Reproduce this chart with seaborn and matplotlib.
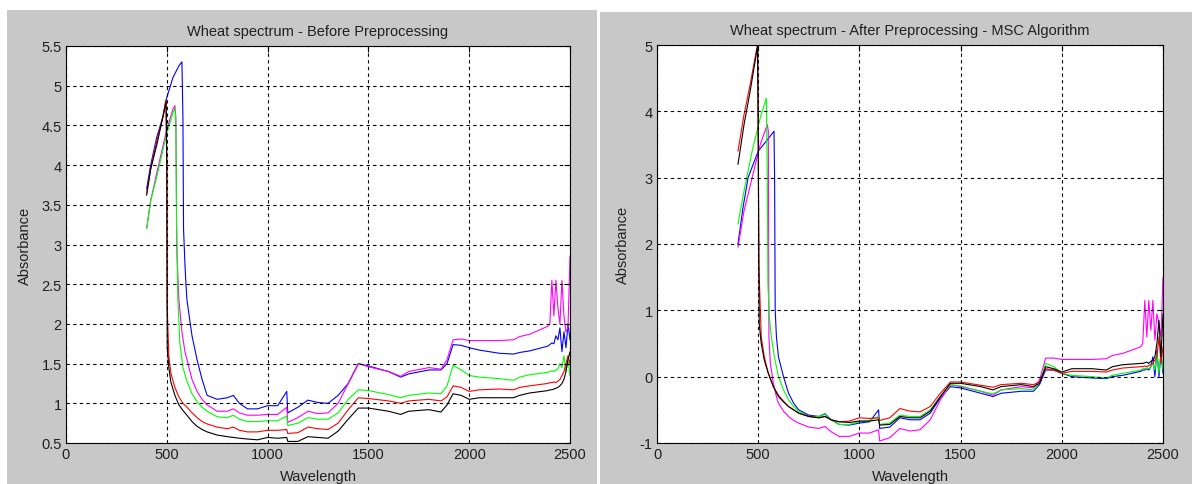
import numpy as np
import pandas as pd
import seaborn as sns
import matplotlib.pyplot as plt
from matplotlib.patches import Rectangle

# shared wavelength grid for the long tail of each spectrum
wl_tail = [600, 625, 650, 675, 700, 750, 800, 830, 860, 900, 950, 1000, 1050, 1095, 1100, 1150,
           1200, 1250, 1300, 1350, 1400, 1450, 1500, 1600, 1660, 1700, 1800, 1860, 1890, 1920,
           1960, 2000, 2050, 2150, 2220, 2250, 2300, 2390, 2400, 2410, 2420, 2430, 2440, 2450,
           2460, 2470, 2480, 2490, 2500]

sample_names = ['blue', 'magenta', 'green', 'red', 'black']
sample_colors = ['#0000ff', '#ff00ff', '#00ff00', '#ff0000', '#000000']

# ---- before preprocessing ----
before_black_wl = [400, 420, 450, 480, 497, 500, 502, 510, 520, 540, 560, 580]
before_black_head = [3.62, 3.95, 4.25, 4.6, 4.8, 4.0, 1.7, 1.45, 1.27, 1.1, 0.98, 0.91]
before_black_tail = [0.85, 0.77, 0.71, 0.67, 0.64, 0.6, 0.58, 0.57, 0.56, 0.55, 0.54, 0.57, 0.56,
                     0.57, 0.52, 0.52, 0.58, 0.57, 0.56, 0.65, 0.8, 0.94, 0.94, 0.9, 0.86, 0.9,
                     0.92, 0.89, 0.98, 1.12, 1.1, 1.05, 1.07, 1.07, 1.07, 1.1, 1.13, 1.16, 1.17,
                     1.17, 1.18, 1.19, 1.2, 1.22, 1.25, 1.3, 1.4, 1.55, 1.65]

before_red_wl = [400, 420, 450, 480, 495, 500, 502, 510, 520, 540, 560, 580]
before_red_head = [3.65, 3.95, 4.3, 4.6, 4.82, 4.0, 2.2, 1.6, 1.38, 1.2, 1.08, 1.0]
before_red_tail = [0.95, 0.88, 0.82, 0.77, 0.74, 0.7, 0.68, 0.7, 0.66, 0.64, 0.64, 0.66, 0.66,
                   0.67, 0.62, 0.63, 0.7, 0.68, 0.67, 0.75, 0.92, 1.07, 1.06, 1.03, 1.0, 1.03,
                   1.05, 1.03, 1.08, 1.22, 1.2, 1.15, 1.17, 1.18, 1.17, 1.2, 1.22, 1.25, 1.26,
                   1.26, 1.27, 1.26, 1.28, 1.3, 1.35, 1.4, 1.5, 1.6, 1.5]

before_green_wl = [400, 420, 450, 500, 530, 540, 545, 548, 555, 565, 580]
before_green_head = [3.2, 3.55, 3.85, 4.4, 4.65, 4.72, 4.5, 3.3, 2.3, 1.75, 1.45]
before_green_tail = [1.28, 1.12, 1.02, 0.95, 0.9, 0.83, 0.82, 0.85, 0.8, 0.77, 0.77, 0.78, 0.78,
                     0.84, 0.72, 0.75, 0.82, 0.8, 0.8, 0.88, 1.05, 1.17, 1.16, 1.11, 1.07, 1.1,
                     1.13, 1.12, 1.22, 1.48, 1.42, 1.35, 1.33, 1.31, 1.29, 1.33, 1.36, 1.39, 1.4,
                     1.41, 1.4, 1.42, 1.43, 1.5, 1.45, 1.6, 1.4, 1.55, 1.35]

before_magenta_wl = [400, 420, 450, 500, 530, 540, 545, 550, 560, 575, 590]
before_magenta_head = [3.2, 3.55, 3.9, 4.45, 4.7, 4.75, 4.6, 2.9, 2.3, 1.9, 1.65]
before_magenta_tail = [1.55, 1.3, 1.15, 1.05, 0.98, 0.9, 0.9, 0.93, 0.88, 0.85, 0.85, 0.86, 0.86,
                       0.95, 0.76, 0.82, 0.9, 0.87, 0.88, 1.0, 1.25, 1.5, 1.46, 1.4, 1.34, 1.4,
                       1.45, 1.43, 1.55, 1.8, 1.81, 1.79, 1.79, 1.79, 1.8, 1.84, 1.87, 1.97, 2.0,
                       2.55, 2.1, 2.55, 2.2, 2.0, 2.55, 2.1, 1.9, 1.95, 2.85]

before_blue_wl = [400, 420, 450, 480, 500, 530, 560, 575, 580, 583, 590, 595]
before_blue_head = [3.7, 4.0, 4.35, 4.6, 4.85, 5.1, 5.25, 5.3, 4.6, 3.2, 2.75, 2.5]
before_blue_tail = [2.3, 1.85, 1.55, 1.3, 1.1, 1.05, 1.07, 1.1, 1.0, 0.93, 0.93, 0.97, 0.97,
                    1.15, 0.88, 0.95, 1.04, 1.01, 1.0, 1.1, 1.25, 1.5, 1.47, 1.4, 1.33, 1.37,
                    1.42, 1.42, 1.5, 1.74, 1.73, 1.7, 1.67, 1.63, 1.62, 1.64, 1.66, 1.72, 1.74,
                    1.76, 1.75, 1.85, 1.8, 1.95, 1.65, 1.9, 1.7, 2.0, 1.8]

# ---- after MSC ----
after_black_wl = [400, 430, 460, 490, 497, 500, 505, 515, 530, 550, 575]
after_black_head = [3.2, 3.8, 4.3, 4.85, 5.0, 3.5, 0.8, 0.5, 0.25, 0.05, -0.15]
after_black_tail = [-0.3, -0.38, -0.45, -0.5, -0.55, -0.6, -0.62, -0.6, -0.65, -0.68, -0.69,
                    -0.67, -0.67, -0.65, -0.73, -0.72, -0.6, -0.62, -0.62, -0.52, -0.3, -0.1,
                    -0.1, -0.15, -0.2, -0.15, -0.12, -0.15, -0.1, 0.15, 0.12, 0.07, 0.12, 0.12,
                    0.1, 0.15, 0.18, 0.2, 0.2, 0.21, 0.22, 0.2, 0.23, 0.25, 0.3, 0.5, 0.85, 0.3,
                    0.95]

after_red_wl = [400, 430, 460, 490, 497, 500, 503, 515, 530, 550, 575]
after_red_head = [3.4, 3.95, 4.4, 4.9, 5.0, 4.0, 1.7, 0.6, 0.3, 0.05, -0.15]
after_red_tail = [-0.28, -0.37, -0.45, -0.5, -0.55, -0.6, -0.62, -0.6, -0.65, -0.68, -0.67,
                  -0.62, -0.63, -0.62, -0.66, -0.62, -0.48, -0.52, -0.53, -0.45, -0.25, -0.08,
                  -0.08, -0.13, -0.16, -0.12, -0.1, -0.12, -0.08, 0.12, 0.1, 0.05, 0.08, 0.08,
                  0.07, 0.1, 0.13, 0.15, 0.15, 0.16, 0.15, 0.17, 0.18, 0.2, 0.25, 0.3, 0.6, 0.2,
                  0.45]

after_green_wl = [400, 430, 470, 510, 540, 545, 548, 555, 565, 580]
after_green_head = [2.3, 2.8, 3.4, 3.9, 4.2, 3.0, 1.4, 0.9, 0.6, 0.3]
after_green_tail = [0.0, -0.2, -0.35, -0.45, -0.52, -0.6, -0.6, -0.57, -0.65, -0.72, -0.72,
                    -0.68, -0.66, -0.6, -0.72, -0.7, -0.58, -0.6, -0.6, -0.5, -0.3, -0.12,
                    -0.14, -0.22, -0.26, -0.2, -0.18, -0.2, -0.1, 0.2, 0.15, 0.05, 0.02, 0.0,
                    -0.02, 0.02, 0.05, 0.1, 0.12, 0.12, 0.13, 0.12, 0.15, 0.2, 0.1, 0.35, 0.05,
                    0.4, 0.1]

after_magenta_wl = [400, 430, 470, 510, 545, 550, 553, 560, 575, 590]
after_magenta_head = [1.95, 2.5, 3.0, 3.5, 3.8, 3.7, 0.6, 0.2, -0.1, -0.3]
after_magenta_tail = [-0.4, -0.52, -0.6, -0.66, -0.7, -0.76, -0.78, -0.75, -0.83, -0.9, -0.9,
                      -0.85, -0.85, -0.8, -0.97, -0.92, -0.78, -0.82, -0.8, -0.65, -0.35, -0.12,
                      -0.15, -0.22, -0.28, -0.2, -0.15, -0.17, -0.05, 0.28, 0.28, 0.26, 0.26,
                      0.26, 0.27, 0.32, 0.35, 0.45, 0.5, 1.15, 0.6, 1.15, 0.7, 1.15, 0.55, 0.95,
                      0.8, 0.6, 1.5]

after_blue_wl = [400, 425, 450, 500, 540, 578, 581, 584, 590]
after_blue_head = [2.0, 2.55, 3.0, 3.4, 3.55, 3.7, 3.0, 1.0, 0.6]
after_blue_tail = [0.3, 0.0, -0.25, -0.4, -0.5, -0.58, -0.6, -0.56, -0.65, -0.72, -0.73, -0.7,
                   -0.68, -0.5, -0.78, -0.76, -0.62, -0.65, -0.65, -0.55, -0.32, -0.15, -0.17,
                   -0.25, -0.3, -0.25, -0.22, -0.22, -0.12, 0.1, 0.1, 0.05, 0.0, -0.02, -0.03,
                   0.0, 0.02, 0.08, 0.1, 0.1, 0.12, 0.1, 0.15, 0.3, 0.0, 0.4, 0.0, 0.35, 0.05]


def build_frame(heads, tails):
    rows = []
    for name in sample_names:
        wl, head = heads[name]
        for i, (w, a) in enumerate(zip(list(wl) + wl_tail, list(head) + tails[name])):
            rows.append({'sample': name, 'order': i, 'Wavelength': w, 'Absorbance': a})
    return pd.DataFrame(rows)


df_before = build_frame(
    {'black': (before_black_wl, before_black_head), 'red': (before_red_wl, before_red_head),
     'green': (before_green_wl, before_green_head), 'magenta': (before_magenta_wl, before_magenta_head),
     'blue': (before_blue_wl, before_blue_head)},
    {'black': before_black_tail, 'red': before_red_tail, 'green': before_green_tail,
     'magenta': before_magenta_tail, 'blue': before_blue_tail})

df_after = build_frame(
    {'black': (after_black_wl, after_black_head), 'red': (after_red_wl, after_red_head),
     'green': (after_green_wl, after_green_head), 'magenta': (after_magenta_wl, after_magenta_head),
     'blue': (after_blue_wl, after_blue_head)},
    {'black': after_black_tail, 'red': after_red_tail, 'green': after_green_tail,
     'magenta': after_magenta_tail, 'blue': after_blue_tail})

sns.set_style('white')
plt.rcParams['font.family'] = ['Liberation Sans', 'DejaVu Sans']
plt.rcParams['font.size'] = 10.5

fig = plt.figure(figsize=(11.92, 4.85), dpi=100, facecolor='white')
# grey window backgrounds, kept behind the axes
fig.patches.append(Rectangle((7 / 1192, 0), 590 / 1192, 474 / 485, transform=fig.transFigure,
                             facecolor='#c8c8c8', edgecolor='none', zorder=-10))
fig.patches.append(Rectangle((600 / 1192, 0), 592 / 1192, 472 / 485, transform=fig.transFigure,
                             facecolor='#c8c8c8', edgecolor='none', zorder=-10))

ax1 = fig.add_axes([66 / 1192, 41 / 485, 504 / 1192, 397 / 485])
ax2 = fig.add_axes([657 / 1192, 41 / 485, 506 / 1192, 398 / 485])

panels = [
    (ax1, df_before, 'Wheat spectrum - Before Preprocessing', (0.5, 5.5), np.arange(0.5, 5.51, 0.5)),
    (ax2, df_after, 'Wheat spectrum - After Preprocessing - MSC Algorithm', (-1, 5), np.arange(-1, 5.1, 1)),
]

for ax, df, title, ylim, yticks in panels:
    ax.set_zorder(5)
    ax.set_facecolor('white')
    sns.lineplot(data=df, x='Wavelength', y='Absorbance', hue='sample', units='sample',
                 hue_order=sample_names, palette=sample_colors, sort=False, estimator=None,
                 legend=False, linewidth=0.8, ax=ax)
    ax.set_xlim(0, 2500)
    ax.set_ylim(*ylim)
    ax.set_xticks(np.arange(0, 2501, 500))
    ax.set_yticks(yticks)
    ax.set_yticklabels([('%g' % v) for v in yticks])
    ax.grid(True, color='black', linestyle=(0, (3, 3)), linewidth=0.8)
    ax.set_axisbelow(False)
    for sp in ax.spines.values():
        sp.set_color('black')
        sp.set_linewidth(0.8)
    ax.tick_params(direction='in', length=4, width=0.8, colors='black', labelsize=10.5,
                   top=True, right=True, labelcolor='#202020', pad=3)
    ax.set_title(title, fontsize=10.5, color='#202020', pad=8)
    ax.set_xlabel('Wavelength', fontsize=10.5, color='#202020', labelpad=6)
    ax.set_ylabel('Absorbance', fontsize=10.5, color='#202020', labelpad=7)

fig.savefig('out.png', dpi=100, facecolor='white')
